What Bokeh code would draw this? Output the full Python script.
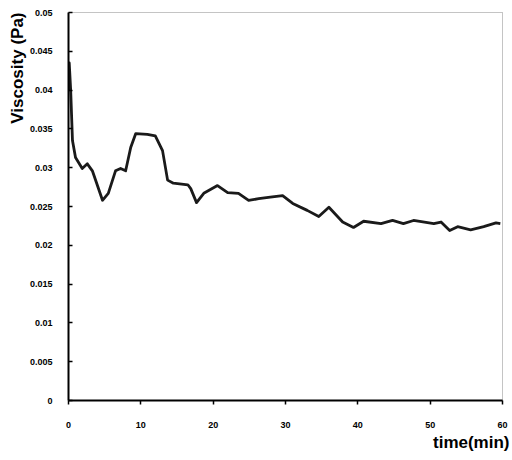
from bokeh.plotting import figure
from bokeh.models import Range1d, FixedTicker, CustomJSTickFormatter, Title
from bokeh.embed import file_html
from bokeh.resources import INLINE

time_min = [0.0, 0.1, 0.3, 0.55, 0.97, 1.9, 2.6, 3.3, 4.7, 5.5, 6.5, 7.2, 7.9, 8.6, 9.3,
            10.9, 12.0, 13.0, 13.7, 14.5, 16.5, 16.9, 17.7, 18.7, 20.6, 22.0, 23.5, 24.9,
            26.3, 27.9, 29.6, 31.0, 33.0, 34.6, 36.0, 37.9, 39.4, 40.8, 43.2, 44.8, 46.3,
            47.7, 50.5, 51.5, 52.7, 53.8, 55.6, 57.4, 59.1, 59.7]
viscosity = [0.0400, 0.0435, 0.0400, 0.0335, 0.0313, 0.0299, 0.0305, 0.0296, 0.0258, 0.0267,
             0.0296, 0.0299, 0.0296, 0.0326, 0.0344, 0.0343, 0.0341, 0.0322, 0.0284, 0.0280,
             0.0278, 0.0273, 0.0255, 0.0267, 0.0277, 0.0268, 0.0267, 0.0258, 0.0260, 0.0262,
             0.0264, 0.0254, 0.0245, 0.0237, 0.0249, 0.0230, 0.0223, 0.0231, 0.0228, 0.0232,
             0.0228, 0.0232, 0.0228, 0.0230, 0.0219, 0.0224, 0.0220, 0.0224, 0.0229, 0.0228]
x_ticks = [0, 10, 20, 30, 40, 50, 60]
y_ticks = [0, 0.005, 0.01, 0.015, 0.02, 0.025, 0.03, 0.035, 0.04, 0.045, 0.05]
x_title = "time(min)"
y_title = "Viscosity (Pa)"

FONT = "Liberation Sans"

p = figure(width=512, height=456, output_backend="svg", toolbar_location=None,
           x_range=Range1d(0, 60), y_range=Range1d(0, 0.05))
p.min_border_left = 68
p.min_border_right = 10
p.min_border_top = 12
p.min_border_bottom = 56
p.outline_line_color = "#888888"
p.outline_line_dash = "1 1"
p.outline_line_width = 1
p.grid.visible = False
p.background_fill_color = "white"
p.border_fill_color = "white"

p.line(time_min, viscosity, line_color="#1a1a1a", line_width=2.8, line_join="round")

for ax in (p.xaxis[0], p.yaxis[0]):
    ax.axis_line_color = "black"
    ax.axis_line_width = 2
    ax.major_tick_line_color = "black"
    ax.major_tick_line_width = 1.5
    ax.minor_tick_line_color = None
    ax.major_label_text_font = FONT
    ax.major_label_text_font_style = "bold"
    ax.major_label_text_font_size = "9px"
    ax.major_label_text_color = "black"

p.xaxis.ticker = FixedTicker(ticks=x_ticks)
p.yaxis.ticker = FixedTicker(ticks=y_ticks)
p.yaxis.formatter = CustomJSTickFormatter(code="return String(Number(tick.toPrecision(6)));")
p.xaxis.major_tick_in = 0
p.xaxis.major_tick_out = 4
p.xaxis.major_label_standoff = 17
p.yaxis.major_tick_in = 4
p.yaxis.major_tick_out = 0
p.yaxis.major_label_standoff = 16

p.add_layout(Title(text=y_title, align="right", text_font=FONT, text_font_style="bold",
                   text_font_size="17px", text_color="black", standoff=0, offset=0), "left")
p.add_layout(Title(text=x_title, align="right", text_font=FONT, text_font_style="bold",
                   text_font_size="17px", text_color="black", standoff=0, offset=-7), "below")

open("out.html", "w").write(file_html(p, INLINE))
